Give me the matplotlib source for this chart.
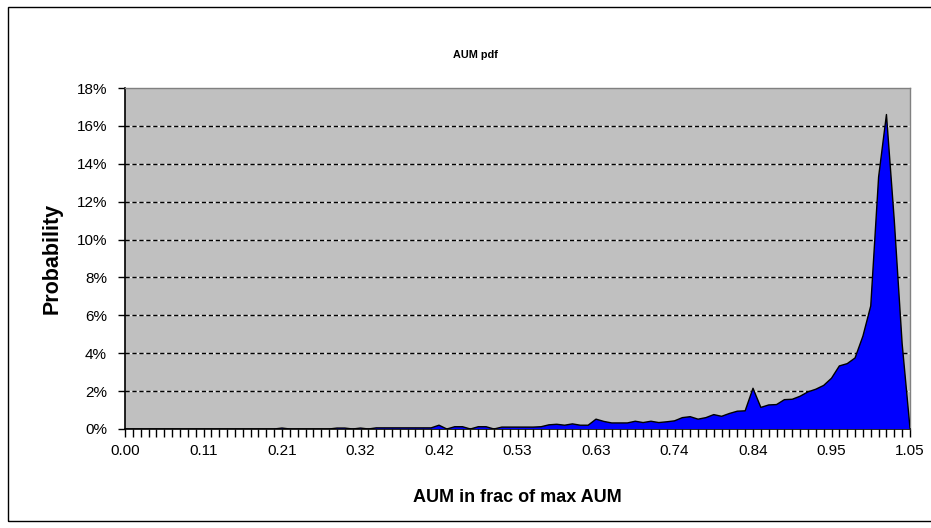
import numpy as np
import matplotlib
matplotlib.use("Agg")
import matplotlib.pyplot as plt
from matplotlib.patches import Rectangle

plt.rcParams['font.family'] = ['Liberation Sans', 'DejaVu Sans']

# 101 categories from 0.00 to 1.05
categories = np.linspace(0.0, 1.05, 101)
tick_labels = ["0.00", "0.11", "0.21", "0.32", "0.42", "0.53",
               "0.63", "0.74", "0.84", "0.95", "1.05"]
y_ticks = [0, 2, 4, 6, 8, 10, 12, 14, 16, 18]

# probability in percent, one value per category
probability = [
    0, 0, 0, 0, 0, 0, 0, 0, 0, 0,
    0, 0, 0, 0, 0, 0, 0, 0, 0, 0,
    0.05, 0, 0, 0, 0, 0, 0, 0.05, 0.05, 0,
    0.05, 0, 0.06, 0.06, 0.06, 0.06, 0.06, 0.06, 0.06, 0.06,
    0.20, 0, 0.12, 0.12, 0, 0.12, 0.12, 0, 0.10, 0.10,
    0.10, 0.10, 0.10, 0.12, 0.22, 0.25, 0.20, 0.27, 0.20, 0.20,
    0.52, 0.40, 0.32, 0.32, 0.32, 0.41, 0.34, 0.41, 0.34, 0.38,
    0.43, 0.60, 0.65, 0.52, 0.60, 0.76, 0.67, 0.82, 0.94, 0.96,
    2.15, 1.14, 1.27, 1.29, 1.55, 1.57, 1.73, 1.96, 2.10, 2.30,
    2.68, 3.33, 3.45, 3.75, 4.90, 6.50, 13.3, 16.6, 11.0, 4.50,
    0.05,
]

W, H = 931, 528
fig = plt.figure(figsize=(W / 100, H / 100), dpi=100)
fig.patch.set_facecolor('white')

L, R, T, B = 125, 910, 88, 429
ax = fig.add_axes([L / W, 1 - B / H, (R - L) / W, (B - T) / H])
ax.set_facecolor('#C0C0C0')

ax.fill_between(categories, probability, 0, facecolor='#0000FF',
                edgecolor='none', zorder=3)
ax.plot(categories, probability, color='black', lw=1.0, zorder=4)

ax.set_xlim(categories[0], categories[-1])
ax.set_ylim(0, 18)

ax.set_yticks(y_ticks)
ax.set_yticklabels([f"{v}%" for v in y_ticks])
ax.set_xticks(categories[::10])
ax.set_xticklabels(tick_labels)
ax.set_xticks(categories, minor=True)

for v in y_ticks[1:-1]:
    ax.axhline(v, color='black', lw=1.0, ls=(0, (3, 2)),
               gapcolor='#E8E8E8', zorder=2)

ax.tick_params(axis='both', which='both', direction='out', color='black',
               labelsize=11, labelcolor='black')
ax.tick_params(axis='x', which='major', length=6, width=1, pad=5)
ax.tick_params(axis='x', which='minor', length=6, width=1)
ax.tick_params(axis='y', which='major', length=5, width=1, pad=8)

for s in ('left', 'bottom'):
    ax.spines[s].set_color('black')
    ax.spines[s].set_linewidth(1.2)
for s in ('top', 'right'):
    ax.spines[s].set_color('#808080')
    ax.spines[s].set_linewidth(1.0)

ax.set_xlabel("AUM in frac of max AUM", fontsize=13, fontweight='bold',
              labelpad=22)
ax.set_ylabel("Probability", fontsize=15.5, fontweight='bold', labelpad=10)

fig.text(475 / W, 1 - 55 / H, "AUM pdf", ha='center', va='center',
         fontsize=7.8, fontweight='bold')

fig.add_artist(Rectangle((8 / W, 1 - 521 / H), (935 - 8) / W, (521 - 7) / H,
                         transform=fig.transFigure, fill=False,
                         edgecolor='black', lw=1.0))

fig.savefig("out.png", dpi=100)
